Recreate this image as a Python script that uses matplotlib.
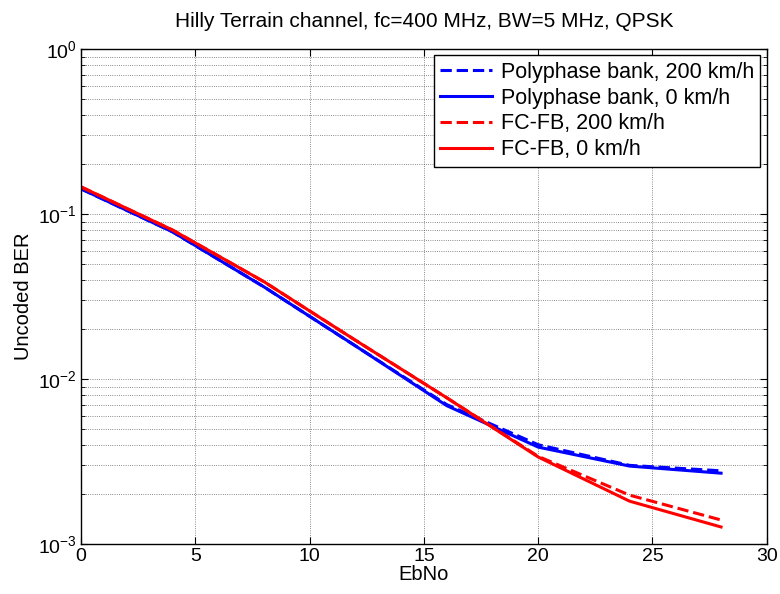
import numpy as np
import matplotlib
matplotlib.use('Agg')
from matplotlib import pyplot as plt
from matplotlib.ticker import LogLocator, NullFormatter

plt.rcParams['font.family'] = ['Liberation Sans', 'DejaVu Sans']
plt.rcParams['mathtext.fontset'] = 'custom'
plt.rcParams['mathtext.rm'] = 'Liberation Sans'
plt.rcParams['mathtext.default'] = 'regular'

ebno = [0, 4, 8, 12, 16, 20, 24, 28]
poly_200 = [0.142, 0.078, 0.0362, 0.0159, 0.0070, 0.0040, 0.00300, 0.00278]
poly_0   = [0.142, 0.078, 0.0362, 0.0159, 0.0069, 0.00387, 0.00297, 0.00269]
fcfb_200 = [0.146, 0.080, 0.0389, 0.0172, 0.0077, 0.0034, 0.00198, 0.00140]
fcfb_0   = [0.146, 0.080, 0.0389, 0.0172, 0.0077, 0.00337, 0.00182, 0.00127]

fig = plt.figure(figsize=(7.8, 5.94), dpi=100)
ax = fig.add_axes([0.104, 0.084, 0.879, 0.8335])

ax.semilogy(ebno, poly_200, color='b', ls='--', lw=2.2, label='Polyphase bank, 200 km/h')
ax.semilogy(ebno, poly_0, color='b', ls='-', lw=2.2, label='Polyphase bank, 0 km/h')
ax.semilogy(ebno, fcfb_200, color='r', ls='--', lw=2.2, label='FC-FB, 200 km/h')
ax.semilogy(ebno, fcfb_0, color='r', ls='-', lw=2.2, label='FC-FB, 0 km/h')

ax.set_xlim(0, 30)
ax.set_ylim(1e-3, 1e0)
ax.set_xticks([0, 5, 10, 15, 20, 25, 30])
ax.yaxis.set_major_locator(LogLocator(base=10, numticks=10))
ax.yaxis.set_minor_locator(LogLocator(base=10, subs=np.arange(2, 10), numticks=10))
ax.yaxis.set_minor_formatter(NullFormatter())

ax.grid(True, which='major', axis='both', ls=':', color='k', lw=0.6, alpha=0.6)
ax.grid(True, which='minor', axis='y', ls=':', color='k', lw=0.6, alpha=0.6)

ax.tick_params(which='both', direction='in', top=True, right=True, labelsize=14)
ax.tick_params(which='major', length=5, pad=3)
ax.tick_params(which='minor', length=3)
for s in ax.spines.values():
    s.set_linewidth(1.0)

ax.set_xlabel('EbNo', fontsize=14.5, labelpad=0)
ax.set_ylabel('Uncoded BER', fontsize=14.5, labelpad=4)
ax.set_title('Hilly Terrain channel, fc=400 MHz, BW=5 MHz, QPSK', fontsize=15, pad=16)

leg = ax.legend(loc='upper right', fontsize=15.5, handlelength=2.4, fancybox=False,
                framealpha=1, edgecolor='k', borderpad=0.3, labelspacing=0.22,
                borderaxespad=0.3, handletextpad=0.4)
leg.get_frame().set_linewidth(1.0)

fig.savefig('out.png', dpi=100)
